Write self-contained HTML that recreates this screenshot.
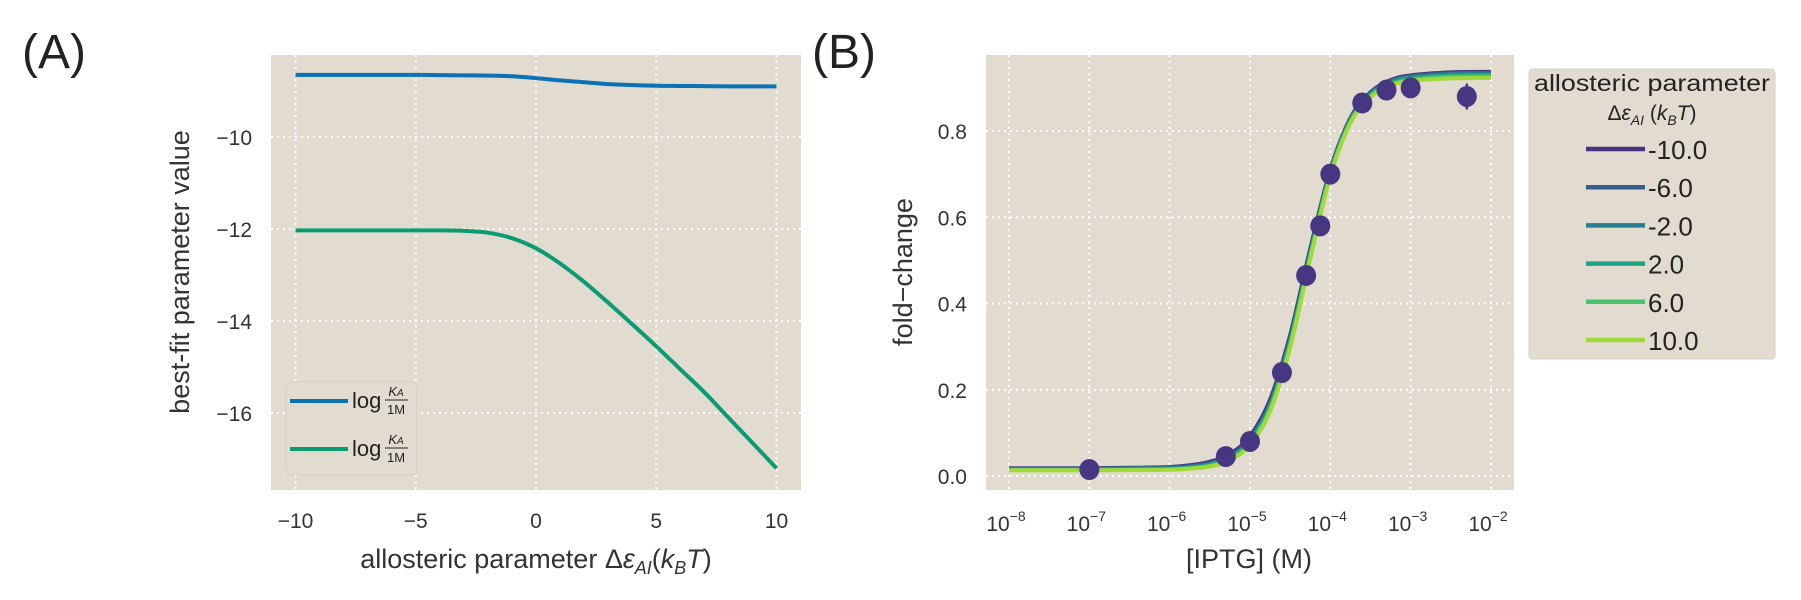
<!DOCTYPE html>
<html><head><meta charset="utf-8"><style>
body{margin:0;background:#fff;}
svg{display:block;font-family:"Liberation Sans",sans-serif;}
.tk{font-size:21px;fill:#333;}
.nar{font-family:"Liberation Sans Narrow","Liberation Sans",sans-serif;}
</style></head><body>
<svg id="fig" width="1801" height="600" viewBox="0 0 1801 600" xmlns="http://www.w3.org/2000/svg">
<text x="22" y="68" font-size="48" fill="#222">(A)</text>
<text x="812" y="68" font-size="48" fill="#222">(B)</text>
<rect x="271" y="55" width="530" height="435" fill="#e2dcd0"/>
<rect x="986" y="55" width="528" height="435" fill="#e2dcd0"/>
<g id="ga"></g><g id="gb"></g>
<text transform="translate(189,272) rotate(-90)" text-anchor="middle" font-size="27" fill="#333">best-fit parameter value</text>
<text x="536" y="568" text-anchor="middle" font-size="27" fill="#333">allosteric parameter Δ<tspan font-style="italic">ε</tspan><tspan font-style="italic" font-size="18" dy="6">AI</tspan><tspan dy="-6">(</tspan><tspan font-style="italic">k</tspan><tspan font-style="italic" font-size="18" dy="6">B</tspan><tspan font-style="italic" dy="-6">T</tspan>)</text>
<text transform="translate(912,272) rotate(-90)" text-anchor="middle" font-size="27" fill="#333">fold−change</text>
<text x="1249" y="568" text-anchor="middle" font-size="27" fill="#333">[IPTG] (M)</text>
<g>
<rect x="286" y="382" width="131" height="93" rx="4" fill="#e2dcd0" stroke="#d6d0c4"/>
<line x1="290" y1="401" x2="348" y2="401" stroke="#0a72b5" stroke-width="4"/>
<text x="352" y="408" font-size="22" fill="#222">log</text>
<text x="396" y="396" font-size="13" font-style="italic" text-anchor="middle" fill="#222">K<tspan font-size="10">A</tspan></text>
<line x1="385" y1="400" x2="408" y2="400" stroke="#222" stroke-width="1"/>
<text x="396" y="414" font-size="13" text-anchor="middle" fill="#222">1M</text>
<line x1="290" y1="449" x2="348" y2="449" stroke="#0a9b72" stroke-width="4"/>
<text x="352" y="456" font-size="22" fill="#222">log</text>
<text x="396" y="444" font-size="13" font-style="italic" text-anchor="middle" fill="#222">K<tspan font-size="10">A</tspan></text>
<line x1="385" y1="448" x2="408" y2="448" stroke="#222" stroke-width="1"/>
<text x="396" y="462" font-size="13" text-anchor="middle" fill="#222">1M</text>
</g>
<g>
<rect x="1529" y="69" width="246" height="290" rx="4" fill="#e2dcd0" stroke="#d6d0c4"/>
<text x="1652" y="91" text-anchor="middle" font-size="23" fill="#222" textLength="236" lengthAdjust="spacingAndGlyphs">allosteric parameter</text>
<text x="1652" y="120" text-anchor="middle" font-size="21" fill="#222">Δ<tspan font-style="italic">ε</tspan><tspan font-style="italic" font-size="14" dy="5">AI</tspan><tspan dy="-5"> (</tspan><tspan font-style="italic">k</tspan><tspan font-style="italic" font-size="14" dy="5">B</tspan><tspan font-style="italic" dy="-5">T</tspan>)</text>
<g id="legb"></g>
</g>
</svg>
<script>
const NS="http://www.w3.org/2000/svg";
function mk(p,tag,at){const e=document.createElementNS(NS,tag);for(const k in at)e.setAttribute(k,at[k]);p.appendChild(e);return e;}
function path(pts){let d="M"+pts[0][0]+","+pts[0][1];for(let i=0;i<pts.length-1;i++){const p0=pts[Math.max(0,i-1)],p1=pts[i],p2=pts[i+1],p3=pts[Math.min(pts.length-1,i+2)];d+=" C"+(p1[0]+(p2[0]-p0[0])/6)+","+(p1[1]+(p2[1]-p0[1])/6)+" "+(p2[0]-(p3[0]-p1[0])/6)+","+(p2[1]-(p3[1]-p1[1])/6)+" "+p2[0]+","+p2[1];}return d;}

// ---- Panel A data ----
const aX=[-10,-9,-8,-7,-6,-5,-4,-3,-2,-1,0,1,2,3,4,5,6,7,8,9,10];
const aBlue=[-8.65,-8.65,-8.65,-8.65,-8.65,-8.65,-8.655,-8.66,-8.665,-8.68,-8.72,-8.77,-8.81,-8.85,-8.87,-8.885,-8.89,-8.895,-8.9,-8.9,-8.9];
const aGreen=[-12.03,-12.03,-12.03,-12.03,-12.03,-12.03,-12.03,-12.04,-12.08,-12.2,-12.42,-12.75,-13.15,-13.6,-14.07,-14.55,-15.05,-15.55,-16.1,-16.65,-17.2];
const aXTicks=[-10,-5,0,5,10];
const aYTicks=[-10,-12,-14,-16];
const aXLabels=["−10","−5","0","5","10"];
const aYLabels=["−10","−12","−14","−16"];

// ---- Panel B data ----
const bLogX=[-8,-7.5,-7,-6.5,-6,-5.75,-5.5,-5.25,-5,-4.75,-4.5,-4.25,-4,-3.75,-3.5,-3.25,-3,-2.5,-2];
const bFits=[
 [0.018,0.018,0.018,0.019,0.021,0.025,0.033,0.051,0.092,0.177,0.327,0.527,0.71,0.83,0.89,0.918,0.929,0.936,0.937],
 [0.017,0.017,0.017,0.018,0.020,0.023,0.030,0.047,0.087,0.170,0.320,0.521,0.707,0.828,0.888,0.916,0.927,0.934,0.935],
 [0.016,0.016,0.016,0.017,0.018,0.021,0.028,0.044,0.083,0.165,0.315,0.517,0.704,0.826,0.886,0.914,0.925,0.932,0.933],
 [0.015,0.015,0.015,0.0155,0.017,0.0195,0.026,0.042,0.080,0.161,0.311,0.514,0.702,0.824,0.884,0.911,0.922,0.929,0.930],
 [0.014,0.014,0.014,0.0145,0.0155,0.018,0.024,0.039,0.076,0.156,0.305,0.509,0.699,0.821,0.881,0.908,0.919,0.926,0.927],
 [0.013,0.013,0.013,0.0135,0.0145,0.017,0.022,0.036,0.072,0.150,0.298,0.503,0.695,0.818,0.878,0.905,0.916,0.922,0.923]];
const bSeriesNames=["-10.0","-6.0","-2.0","2.0","6.0","10.0"];
const bColors=["#46327e","#365c8d","#277f8e","#1fa187","#4ac16d","#a0da39"];
const bDataLogX=[-7,-5.301,-5,-4.602,-4.301,-4.125,-4,-3.602,-3.301,-3,-2.301];
const bDataY=[0.015,0.045,0.08,0.24,0.465,0.58,0.70,0.865,0.895,0.90,0.88];
const bDataErr=[0.005,0.008,0.008,0.01,0.01,0.01,0.01,0.01,0.008,0.008,0.03];
const bXTicks=[-8,-7,-6,-5,-4,-3,-2];
const bYTicks=[0,0.2,0.4,0.6,0.8];
const bYLabels=["0.0","0.2","0.4","0.6","0.8"];

const axA={x:v=>536+v*24.05,y:v=>137+(-10-v)*46};
const axB={x:v=>1009+(v+8)*80.33,y:v=>476-v*431.25};

const ga=document.getElementById("ga"),gb=document.getElementById("gb");
const grid={stroke:"#fff","stroke-width":2,"stroke-dasharray":"2,4"};
aXTicks.forEach((t,i)=>{const x=axA.x(t);
 const l=mk(ga,"line",Object.assign({x1:x,x2:x,y1:55,y2:490},grid));
 
 
 const tx=mk(ga,"text",{x:x,y:528,"text-anchor":"middle",class:"tk"});tx.textContent=aXLabels[i];
 
 });
aYTicks.forEach((t,i)=>{const y=axA.y(t);
 const l=mk(ga,"line",Object.assign({x1:271,x2:801,y1:y,y2:y},grid));
 
 
 const tx=mk(ga,"text",{x:252,y:y+8,"text-anchor":"end",class:"tk"});tx.textContent=aYLabels[i];
 
 });
[[aBlue,"#0a72b5","blue-line"],[aGreen,"#0a9b72","green-line"]].forEach(s=>{
 const p=mk(ga,"path",{d:path(aX.map((x,i)=>[axA.x(x),axA.y(s[0][i])])),fill:"none",stroke:s[1],"stroke-width":4});
 
 });

bXTicks.forEach(t=>{const x=axB.x(t);
 const l=mk(gb,"line",Object.assign({x1:x,x2:x,y1:55,y2:490},grid));
 
 
 const tx=mk(gb,"text",{x:x-3,y:531,"text-anchor":"middle",class:"tk"});tx.innerHTML="10<tspan font-size='14' dy='-10'>−"+(-t)+"</tspan>";
 
 });
bYTicks.forEach((t,i)=>{const y=axB.y(t);
 const l=mk(gb,"line",Object.assign({x1:986,x2:1514,y1:y,y2:y},grid));
 
 
 const tx=mk(gb,"text",{x:967,y:y+8,"text-anchor":"end",class:"tk"});tx.textContent=bYLabels[i];
 
 });
bFits.forEach((f,k)=>{
 const p=mk(gb,"path",{d:path(bLogX.map((x,i)=>[axB.x(x),axB.y(f[i])])),fill:"none",stroke:bColors[k],"stroke-width":4});
 
 });
bDataLogX.forEach((x,i)=>{const cx=axB.x(x),cy=axB.y(bDataY[i]);
 const e=mk(gb,"line",{x1:cx,x2:cx,y1:axB.y(bDataY[i]+bDataErr[i]),y2:axB.y(bDataY[i]-bDataErr[i]),stroke:"#453781","stroke-width":2.5});
 
 
 const c=mk(gb,"ellipse",{cx:cx,cy:cy,rx:10,ry:10.5,fill:"#453781"});
 
 });
const legb=document.getElementById("legb");
bSeriesNames.forEach((n,k)=>{const y=149+k*38.2;
 const l=mk(legb,"line",{x1:1586,x2:1645,y1:y,y2:y,stroke:bColors[k],"stroke-width":4.5});
 
 
 const t=mk(legb,"text",{x:1648,y:y+10,"font-size":"26",fill:"#222"});t.textContent=n;
 
 });
</script>
</body></html>
